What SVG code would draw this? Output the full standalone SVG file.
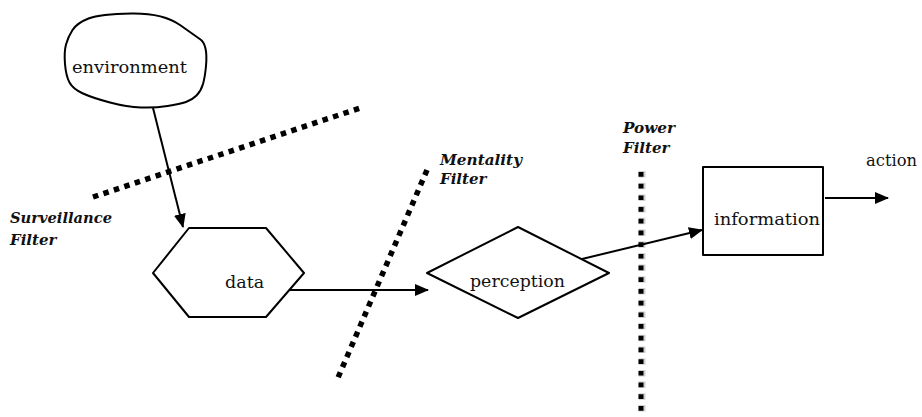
<svg xmlns="http://www.w3.org/2000/svg" width="922" height="417" viewBox="0 0 922 417">
  <style>
    .shape { fill: #ffffff; stroke: #000000; stroke-width: 2; stroke-linejoin: round; }
    .lbl { font-family: "DejaVu Serif", "Liberation Serif", serif; font-size: 17.5px; fill: #111111; }
    .flt { font-family: "DejaVu Serif", "Liberation Serif", serif; font-size: 15px; font-weight: bold; font-style: italic; fill: #111111; }
    .edge { fill: none; stroke: #000000; stroke-width: 2; }
    .dots { fill: none; stroke: #000000; stroke-width: 5.5; stroke-dasharray: 5.5 5.5; }
  </style>
  <defs>
    <marker id="arrow" viewBox="0 0 14 12" refX="13" refY="6" markerWidth="14" markerHeight="12" markerUnits="userSpaceOnUse" orient="auto">
      <path d="M0,0 L14,6 L0,12 Z" fill="#000000"/>
    </marker>
  </defs>
  <rect width="922" height="417" fill="#ffffff"/>

  <g id="filters">
    <line class="dots" x1="93" y1="197" x2="363" y2="107"/>
    <line class="dots" x1="427" y1="170" x2="337" y2="380"/>
    <line x1="642" y1="171" x2="642" y2="414" fill="none" stroke="#d0d0d0" stroke-width="7" stroke-dasharray="6.5 5.2"/>
    <line x1="641" y1="172" x2="641" y2="414" fill="none" stroke="#000000" stroke-width="5" stroke-dasharray="4.7 7"/>
    <text class="flt" x="10" y="223" textLength="102" lengthAdjust="spacingAndGlyphs">Surveillance</text>
    <text class="flt" x="10" y="245">Filter</text>
    <text class="flt" x="440" y="165" textLength="82" lengthAdjust="spacingAndGlyphs">Mentality</text>
    <text class="flt" x="440" y="184">Filter</text>
    <text class="flt" x="623" y="133" textLength="52" lengthAdjust="spacingAndGlyphs">Power</text>
    <text class="flt" x="623" y="153">Filter</text>
  </g>

  <g id="connectors">
    <line class="edge" x1="153" y1="108" x2="183" y2="227" marker-end="url(#arrow)"/>
    <line class="edge" x1="275" y1="290" x2="428" y2="290" marker-end="url(#arrow)"/>
    <line class="edge" x1="582" y1="259" x2="702" y2="230" marker-end="url(#arrow)"/>
    <line class="edge" x1="825" y1="198" x2="888" y2="198" marker-end="url(#arrow)"/>
  </g>

  <g id="environment">
    <path class="shape" d="M72.5,30 Q77,23 88.5,18.5 Q100,14 131.5,13.5 Q163,13 180,25 Q197,37 200.5,39.5 Q204,42 205.5,48.5 Q207,55 206,66 Q205,77 203,84 Q201,91 196.5,95.5 Q192,100 186,102 Q180,104 167.5,106 Q155,108 141,107.5 Q127,107 110,102.5 Q93,98 83,93.5 Q73,89 69.5,82.5 Q66,76 65,64 Q64,52 66,44.5 Q68,37 72.5,30 Z"/>
    <text class="lbl" x="72" y="73" textLength="115" lengthAdjust="spacingAndGlyphs">environment</text>
  </g>

  <g id="data">
    <polygon class="shape" points="189,228 266,228 304,273 266,317 189,317 153,273"/>
    <text class="lbl" x="225" y="288">data</text>
  </g>

  <g id="perception">
    <polygon class="shape" points="427,273 518,227 609,273 518,318"/>
    <text class="lbl" x="470" y="287" textLength="95" lengthAdjust="spacingAndGlyphs">perception</text>
  </g>

  <g id="information">
    <rect class="shape" x="703" y="167" width="120" height="88"/>
    <text class="lbl" x="714" y="225" textLength="106" lengthAdjust="spacingAndGlyphs">information</text>
  </g>

  <g id="action">
    <text class="lbl" x="866" y="166" textLength="51" lengthAdjust="spacingAndGlyphs">action</text>
  </g>
</svg>
